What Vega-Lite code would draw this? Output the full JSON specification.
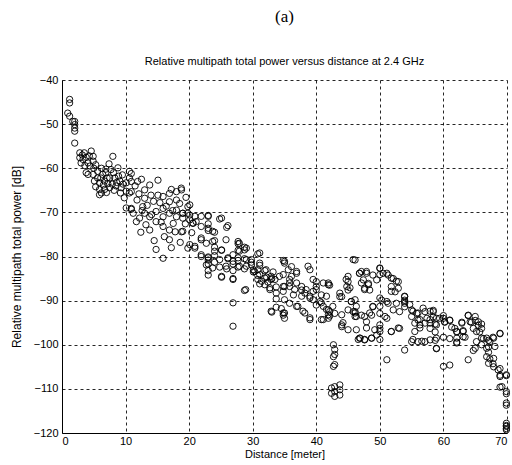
{
  "$schema": "https://vega.github.io/schema/vega-lite/v6.json",
  "width": 445,
  "height": 353,
  "autosize": "none",
  "padding": {"left": 62, "top": 80, "right": 5, "bottom": 32},
  "background": "white",
  "title": {
    "text": "(a)",
    "subtitle": "Relative multipath total power versus distance at 2.4 GHz",
    "anchor": "middle",
    "frame": "group",
    "font": "Liberation Serif",
    "fontSize": 17,
    "fontWeight": "normal",
    "color": "#000",
    "subtitleFont": "Liberation Sans",
    "subtitleFontSize": 11,
    "subtitleColor": "#000",
    "subtitlePadding": 30,
    "offset": 6
  },
  "data": {"values": [
    {"d":1.2,"p":-44.4},{"d":1.2,"p":-45.2},{"d":0.9,"p":-47.5},{"d":1.2,"p":-48.2},{"d":1.7,"p":-49.4},{"d":2,"p":-50.1},{"d":2,"p":-50.9},{"d":2,"p":-51.6},{"d":2,"p":-49.4},{"d":2,"p":-54.3},
    {"d":2.8,"p":-56.5},{"d":2.8,"p":-57.6},{"d":3.3,"p":-58},{"d":3.5,"p":-56.5},{"d":4.6,"p":-56.1},{"d":4.9,"p":-57.3},{"d":4.1,"p":-58.8},{"d":4.9,"p":-58.4},{"d":3.8,"p":-61},{"d":4.9,"p":-61.4},
    {"d":5.6,"p":-60.7},{"d":5.6,"p":-62.2},{"d":5.9,"p":-63.3},{"d":6.4,"p":-61.4},{"d":6.7,"p":-62.9},{"d":5.9,"p":-64.8},{"d":6.7,"p":-64.8},{"d":7.5,"p":-64.4},{"d":7.7,"p":-60.3},{"d":8,"p":-57.3},
    {"d":7.5,"p":-62.2},{"d":8.3,"p":-62.2},{"d":8.8,"p":-59.9},{"d":9.1,"p":-62.9},{"d":8.5,"p":-64},{"d":9.3,"p":-64.4},{"d":10.1,"p":-65.2},{"d":10.1,"p":-63.3},{"d":10.6,"p":-62.2},{"d":10.6,"p":-60.7},
    {"d":9.8,"p":-66.7},{"d":10.6,"p":-65.6},{"d":10.1,"p":-69},{"d":10.9,"p":-69.3},{"d":5.9,"p":-66},{"d":5.1,"p":-62.9},{"d":4.1,"p":-61.4},{"d":3.2,"p":-57},{"d":3.8,"p":-57.5},{"d":4.4,"p":-59.5},
    {"d":6.2,"p":-60},{"d":6.9,"p":-61},{"d":7.2,"p":-63.5},{"d":8.1,"p":-61},{"d":8.6,"p":-63.2},{"d":9.5,"p":-61.5},{"d":6.5,"p":-63.8},{"d":7,"p":-65.5},
    {"d":3,"p":-58.8},{"d":3.6,"p":-59.4},{"d":4.3,"p":-57.2},{"d":5.3,"p":-59.2},{"d":5.3,"p":-64.2},{"d":6.1,"p":-62.2},{"d":7.1,"p":-62.2},{"d":7.9,"p":-63.6},{"d":8.9,"p":-61.8},{"d":9.6,"p":-63.6},
    {"d":9.2,"p":-65.6},{"d":8.2,"p":-65},{"d":6.9,"p":-60.2},{"d":7.4,"p":-59},{"d":6.2,"p":-65.6},{"d":5,"p":-60},
    {"d":10.9,"p":-61.2},{"d":10.9,"p":-63},{"d":10.9,"p":-65.3},{"d":11.9,"p":-63},{"d":13,"p":-64.9},{"d":13.8,"p":-63.8},{"d":15.1,"p":-62.7},{"d":14,"p":-66.1},{"d":15.1,"p":-66.1},{"d":15.9,"p":-66.4},
    {"d":16.9,"p":-65.7},{"d":18,"p":-65.3},{"d":18.8,"p":-64.9},{"d":18,"p":-67.2},{"d":16.9,"p":-67.6},{"d":10.9,"p":-69.1},{"d":11.2,"p":-70.2},{"d":11.7,"p":-72.1},{"d":12.7,"p":-68.7},{"d":13,"p":-70.2},
    {"d":13.8,"p":-71},{"d":13.8,"p":-74},{"d":14.8,"p":-69.8},{"d":14.8,"p":-72.1},{"d":15.9,"p":-69.1},{"d":15.9,"p":-71},{"d":15.9,"p":-73.2},{"d":16.1,"p":-75.5},{"d":16.9,"p":-76.2},{"d":16.9,"p":-74},
    {"d":16.9,"p":-70.2},{"d":18,"p":-69.5},{"d":18,"p":-71},{"d":18.8,"p":-74.4},{"d":19,"p":-70.2},{"d":19,"p":-71.3},{"d":19.8,"p":-68.7},{"d":20.1,"p":-70.6},{"d":20.1,"p":-71.7},{"d":20.6,"p":-72.5},
    {"d":21.1,"p":-72.1},{"d":21.9,"p":-73.2},{"d":21.9,"p":-76.2},{"d":19.8,"p":-78.1},{"d":20.9,"p":-78.1},{"d":23,"p":-73.6},{"d":22.7,"p":-77},{"d":21.9,"p":-80},{"d":23,"p":-80.8},{"d":23,"p":-84.2},
    {"d":15.9,"p":-80.4},{"d":13,"p":-66.8},{"d":12.2,"p":-71.3},{"d":12.4,"p":-74.5},{"d":14.5,"p":-76.4},{"d":11.5,"p":-64},{"d":12.5,"p":-62.5},{"d":14.4,"p":-67.5},{"d":17.5,"p":-72.5},{"d":18.5,"p":-68},
    {"d":17.2,"p":-78},{"d":18.6,"p":-76.8},{"d":14.8,"p":-78.4},
    {"d":11.8,"p":-67.2},{"d":12.1,"p":-65.8},{"d":13.4,"p":-68.4},{"d":14.1,"p":-70.5},{"d":15.4,"p":-67.8},{"d":16.4,"p":-68.6},{"d":17.4,"p":-69.6},{"d":17.8,"p":-74.4},{"d":19.4,"p":-72.6},{"d":20.4,"p":-74.6},
    {"d":19.5,"p":-66.6},{"d":17.2,"p":-64.8},{"d":15.6,"p":-72.2},{"d":13.2,"p":-72.8},{"d":12.6,"p":-69.6},
    {"d":18.76,"p":-64.5},{"d":20.1,"p":-68.3},{"d":19,"p":-70.2},{"d":19.8,"p":-70.2},{"d":20.9,"p":-70.9},{"d":21.9,"p":-70.9},{"d":23,"p":-70.9},{"d":25.1,"p":-71.3},{"d":26.1,"p":-73},{"d":19,"p":-74.3},
    {"d":20.6,"p":-72.4},{"d":21.9,"p":-75.8},{"d":23.7,"p":-74.3},{"d":20.1,"p":-77.3},{"d":20.9,"p":-77.7},{"d":23.7,"p":-76.6},{"d":27.9,"p":-77},{"d":29,"p":-78.1},{"d":31.1,"p":-79.2},{"d":21.9,"p":-79.6},
    {"d":23,"p":-80.3},{"d":24,"p":-78.8},{"d":25.1,"p":-78.5},{"d":26.1,"p":-80.3},{"d":26.9,"p":-81.1},{"d":27.9,"p":-78.8},{"d":29,"p":-80.7},{"d":29.8,"p":-81.9},{"d":31.1,"p":-81.5},{"d":32.1,"p":-83},
    {"d":22.7,"p":-81.9},{"d":23.7,"p":-82.6},{"d":25.1,"p":-84.5},{"d":26.9,"p":-85.2},{"d":24.8,"p":-80.7},{"d":25.8,"p":-82.2},{"d":27.9,"p":-82.2},{"d":30.3,"p":-83.4},{"d":31.4,"p":-85.6},{"d":32.9,"p":-85.2},
    {"d":32.7,"p":-87.1},{"d":33.7,"p":-88.3},{"d":34.2,"p":-84.5},{"d":35,"p":-81.1},{"d":36.9,"p":-83.4},{"d":35.8,"p":-85.2},{"d":35,"p":-86.8},{"d":36.6,"p":-87.5},{"d":37.7,"p":-89},{"d":36.9,"p":-91.3},
    {"d":37.9,"p":-92.4},{"d":38.7,"p":-82.2},{"d":39.5,"p":-85.2},{"d":40,"p":-87.5},{"d":39.5,"p":-89.8},{"d":40.8,"p":-90.5},{"d":41.6,"p":-89},{"d":41.9,"p":-86},{"d":41.6,"p":-92},{"d":40.8,"p":-94.3},
    {"d":42.1,"p":-93.5},{"d":39,"p":-93.9},{"d":35,"p":-92.8},{"d":32.9,"p":-92.4},{"d":32.7,"p":-87.5},{"d":42.6,"p":-91.3},{"d":43.7,"p":-88.3},{"d":44.2,"p":-95},{"d":44.7,"p":-85.2},{"d":45,"p":-84.5},
    {"d":45.3,"p":-87.1},{"d":45.8,"p":-80.7},{"d":46.1,"p":-89.8},{"d":46.1,"p":-92.8},{"d":46.3,"p":-96.6},{"d":42.9,"p":-101.1},{"d":42.9,"p":-102.2},{"d":42.9,"p":-104.5},{"d":25.8,"p":-76.2},{"d":27.7,"p":-76.6},
    {"d":29,"p":-82.2},{"d":30.1,"p":-83},{"d":31.1,"p":-84.1},{"d":31.9,"p":-84.9},{"d":26.9,"p":-79.6},{"d":27.7,"p":-80.3},{"d":28.7,"p":-78.5},{"d":29.8,"p":-80.7},{"d":30.8,"p":-83},{"d":32.9,"p":-84.5},
    {"d":33.5,"p":-85.2},{"d":35.6,"p":-83},{"d":37.7,"p":-86.8},{"d":38.4,"p":-87.5},{"d":39,"p":-89},{"d":34.8,"p":-84.1},{"d":35.8,"p":-86.8},{"d":30.8,"p":-85.2},{"d":31.9,"p":-86.4},
    {"d":26.9,"p":-90.5},{"d":26.9,"p":-95.8},{"d":28.9,"p":-87.5},
    {"d":23,"p":-70.7},{"d":23,"p":-72.6},{"d":23,"p":-74.1},{"d":24.8,"p":-71.5},{"d":25.9,"p":-73.4},{"d":24,"p":-74.5},{"d":24,"p":-76.4},{"d":24,"p":-77.9},{"d":25.1,"p":-78.6},{"d":26.1,"p":-80.5},
    {"d":23,"p":-80.1},{"d":23,"p":-81.7},{"d":23,"p":-83.2},{"d":24,"p":-79.8},{"d":24,"p":-81.3},{"d":24.8,"p":-82.4},{"d":25.1,"p":-84.7},{"d":25.9,"p":-82.8},{"d":26.9,"p":-81.7},{"d":26.9,"p":-83.2},
    {"d":26.9,"p":-85},{"d":27.7,"p":-77.1},{"d":27.7,"p":-78.6},{"d":27.7,"p":-80.9},{"d":27.7,"p":-82.4},{"d":28.7,"p":-77.9},{"d":28.7,"p":-80.5},{"d":28.7,"p":-82.8},{"d":28.7,"p":-87.7},{"d":29.8,"p":-81.3},
    {"d":30.1,"p":-83.5},{"d":30.8,"p":-79.4},{"d":31.1,"p":-82},{"d":30.8,"p":-84.3},{"d":31.1,"p":-86.2},{"d":31.9,"p":-83.2},{"d":32.2,"p":-84.7},{"d":32.4,"p":-85.8},{"d":33,"p":-85},{"d":33.2,"p":-83.5},
    {"d":33.7,"p":-86.9},{"d":33.7,"p":-89.6},{"d":33.7,"p":-91.5},{"d":33,"p":-92.6},{"d":34.5,"p":-91.8},{"d":34.8,"p":-93.3},{"d":34.8,"p":-80.9},
    {"d":35,"p":-81.5},{"d":36.1,"p":-82.3},{"d":36.9,"p":-83.8},{"d":39,"p":-83},{"d":36.1,"p":-84.5},{"d":35.8,"p":-86},{"d":36.9,"p":-86},{"d":34.8,"p":-86.8},{"d":34.8,"p":-87.9},{"d":37.7,"p":-87.6},
    {"d":38.2,"p":-88.3},{"d":40,"p":-85.7},{"d":40,"p":-86.8},{"d":41.1,"p":-86},{"d":41.9,"p":-86.4},{"d":40.8,"p":-88.7},{"d":39.5,"p":-87.9},{"d":39,"p":-89.4},{"d":40.6,"p":-90.2},{"d":41.1,"p":-91.3},
    {"d":41.9,"p":-92.1},{"d":41.9,"p":-93.2},{"d":41.9,"p":-94},{"d":40,"p":-91},{"d":37.1,"p":-91.3},{"d":38.2,"p":-92.8},{"d":39,"p":-94.3},{"d":41.1,"p":-94.3},{"d":35,"p":-89.8},{"d":35.8,"p":-90.6},
    {"d":35,"p":-94},{"d":34.8,"p":-92.8},{"d":36.4,"p":-88.7},{"d":43.7,"p":-89.1},{"d":44,"p":-93.2},{"d":44,"p":-95.5},{"d":45,"p":-96.6},{"d":45,"p":-87.6},{"d":45,"p":-85.7},{"d":45.5,"p":-90.2},
    {"d":46.3,"p":-91.3},{"d":45.8,"p":-92.5},{"d":46.1,"p":-93.6},{"d":46.1,"p":-80.8},{"d":46.8,"p":-83.8},{"d":46.8,"p":-98.5},
    {"d":47.1,"p":-83.4},{"d":47.9,"p":-83.8},{"d":47.4,"p":-85.3},{"d":48.2,"p":-86.1},{"d":47.6,"p":-87.2},{"d":48.9,"p":-84.2},{"d":50,"p":-82.7},{"d":50.5,"p":-83.8},{"d":51.3,"p":-84.2},{"d":52.1,"p":-85},
    {"d":52.9,"p":-85.7},{"d":51.8,"p":-86.8},{"d":52.4,"p":-88},{"d":49.5,"p":-85.3},{"d":48.4,"p":-87.6},{"d":44.8,"p":-86.8},{"d":44,"p":-89.1},{"d":42.1,"p":-86.5},{"d":45.5,"p":-90.2},{"d":45,"p":-92.1},
    {"d":46.1,"p":-92.5},{"d":47.1,"p":-93.3},{"d":47.9,"p":-94.8},{"d":48.9,"p":-91.4},{"d":48.7,"p":-93.3},{"d":50.3,"p":-89.9},{"d":51.3,"p":-90.6},{"d":50,"p":-92.9},{"d":50.8,"p":-93.6},{"d":50,"p":-96.3},
    {"d":49.5,"p":-97.8},{"d":48.7,"p":-98.5},{"d":47.6,"p":-98.9},{"d":46.9,"p":-98.5},{"d":51.8,"p":-97},{"d":53.1,"p":-96.3},{"d":52.1,"p":-92.1},{"d":53.1,"p":-92.5},{"d":53.9,"p":-89.1},{"d":53.9,"p":-89.9},
    {"d":53.9,"p":-90.6},{"d":53.9,"p":-91.4},{"d":55,"p":-92.1},{"d":55,"p":-93.6},{"d":55.8,"p":-92.9},{"d":56,"p":-94.4},{"d":56.3,"p":-95.5},{"d":57.1,"p":-92.5},{"d":57.4,"p":-94},{"d":57.9,"p":-95.1},
    {"d":57.9,"p":-96.3},{"d":58.4,"p":-92.5},{"d":58.9,"p":-94},{"d":58.9,"p":-95.5},{"d":58.9,"p":-98.5},{"d":58.9,"p":-100.8},{"d":59.4,"p":-94},{"d":55,"p":-99.3},{"d":56,"p":-99.3},{"d":57.1,"p":-99.3},
    {"d":57.9,"p":-98.9},{"d":53.9,"p":-101.2},{"d":51.1,"p":-103.4},{"d":60,"p":-104.9},{"d":61,"p":-104.6},{"d":60,"p":-94},{"d":60.2,"p":-94.8},{"d":61,"p":-94.4},{"d":61.8,"p":-96.3},{"d":62.1,"p":-97},
    {"d":62.1,"p":-98.5},{"d":62.1,"p":-99.6},{"d":62.9,"p":-95.1},{"d":63.1,"p":-97},{"d":63.1,"p":-98.2},{"d":63.9,"p":-93.3},{"d":64.2,"p":-94.8},{"d":64.7,"p":-96.3},{"d":65,"p":-93.6},{"d":65.5,"p":-94.8},
    {"d":65.2,"p":-97},{"d":66,"p":-96.3},{"d":66,"p":-98.5},{"d":66.8,"p":-98.5},{"d":67.3,"p":-99.3},{"d":67.9,"p":-98.5},{"d":68.1,"p":-100.4},{"d":68.9,"p":-97.4},{"d":66.8,"p":-100.8},{"d":66.8,"p":-102.7},
    {"d":67.1,"p":-104.2},{"d":67.9,"p":-103.1},{"d":67.9,"p":-105},{"d":68.6,"p":-105.7},{"d":68.9,"p":-107.2},{"d":69.9,"p":-106.8},{"d":69.2,"p":-109.5},{"d":69.9,"p":-110.6},{"d":69.9,"p":-113.2},{"d":69.9,"p":-117.8},
    {"d":69.9,"p":-118.5},{"d":69.9,"p":-119.3},{"d":65,"p":-100.8},{"d":63.9,"p":-103.4},{"d":65.2,"p":-99.3},{"d":66,"p":-100},{"d":42.7,"p":-100},{"d":42.7,"p":-102.7},{"d":42.7,"p":-104.9},{"d":42.9,"p":-109.5},
    {"d":42.9,"p":-110.6},{"d":42.9,"p":-111.7},{"d":43.7,"p":-109.1},{"d":43.7,"p":-110.2},{"d":43.7,"p":-111.4},{"d":42.4,"p":-111},{"d":42.4,"p":-109.8},{"d":42.9,"p":-92.9},{"d":44,"p":-95.9},{"d":42.1,"p":-92.5},
    {"d":58.4,"p":-92.2},{"d":58.4,"p":-93.7},{"d":58.7,"p":-95.3},{"d":58.7,"p":-97.1},{"d":58.7,"p":-99},{"d":58.9,"p":-100.9},{"d":60,"p":-93.4},{"d":60.2,"p":-94.9},{"d":61,"p":-94.5},{"d":61.3,"p":-96},
    {"d":60,"p":-98.3},{"d":61,"p":-98.6},{"d":62.1,"p":-99.4},{"d":62.1,"p":-97.1},{"d":62.9,"p":-94.9},{"d":63.1,"p":-96.8},{"d":63.4,"p":-98.3},{"d":63.9,"p":-93.4},{"d":64.4,"p":-94.9},{"d":65,"p":-94.5},
    {"d":65.5,"p":-95.6},{"d":66,"p":-95.3},{"d":65.7,"p":-97.1},{"d":66.3,"p":-98.6},{"d":67.1,"p":-99},{"d":67.8,"p":-98.3},{"d":68.9,"p":-97.5},{"d":67.1,"p":-100.5},{"d":67.1,"p":-101.7},{"d":67.3,"p":-103.2},
    {"d":67.8,"p":-104.3},{"d":68.9,"p":-105.4},{"d":68.9,"p":-106.9},{"d":69.9,"p":-107},{"d":68.9,"p":-109.6},{"d":69.9,"p":-111.1},{"d":69.9,"p":-113.7},{"d":69.9,"p":-118.3},{"d":69.9,"p":-119},{"d":64.7,"p":-101.3},
    {"d":50,"p":-82.6},{"d":46.8,"p":-83.8},{"d":47.9,"p":-83.4},{"d":47.1,"p":-86},{"d":48.2,"p":-86.4},{"d":47.6,"p":-87.5},{"d":50,"p":-84.1},{"d":51.1,"p":-83.8},{"d":51.8,"p":-84.9},{"d":52.6,"p":-85.6},
    {"d":52.9,"p":-87.2},{"d":51.8,"p":-87.9},{"d":50,"p":-89.4},{"d":51.1,"p":-90.2},{"d":52.6,"p":-90.6},{"d":53.9,"p":-89},{"d":53.9,"p":-90.2},{"d":54.7,"p":-90.9},{"d":55.2,"p":-92.4},{"d":56,"p":-92.8},
    {"d":56.8,"p":-91.7},{"d":57.9,"p":-92.4},{"d":56.3,"p":-94.3},{"d":57.1,"p":-95.1},{"d":57.9,"p":-94.3},{"d":55.5,"p":-95.1},{"d":56.3,"p":-96.2},{"d":55.2,"p":-98.8},{"d":56.6,"p":-99.2},{"d":46.3,"p":-93.6},
    {"d":47.6,"p":-93.6},{"d":48.4,"p":-92.8},{"d":48.9,"p":-91.3},{"d":50,"p":-91.3},{"d":51.1,"p":-94},{"d":50,"p":-95.5},{"d":49.2,"p":-96.6},{"d":47.9,"p":-96.2},{"d":46.6,"p":-98.8},{"d":47.6,"p":-98.8},
    {"d":48.7,"p":-98.5},{"d":50,"p":-97},{"d":51.8,"p":-97},{"d":52.9,"p":-96.2},{"d":50,"p":-98.8},{"d":55.5,"p":-97}
  ]},
  "mark": {"type": "point", "shape": "circle", "filled": false, "stroke": "#000", "strokeWidth": 0.9, "size": 40, "opacity": 1, "clip": false},
  "encoding": {
    "x": {"field": "d", "type": "quantitative", "scale": {"domain": [0, 70], "nice": false, "zero": false},
      "axis": {"values": [0,10,20,30,40,50,60,70], "title": "Distance [meter]"}},
    "y": {"field": "p", "type": "quantitative", "scale": {"domain": [-120, -40], "nice": false, "zero": false},
      "axis": {"values": [-120,-110,-100,-90,-80,-70,-60,-50,-40], "title": "Relative multipath total power [dB]"}}
  },
  "config": {
    "view": {"stroke": null},
    "axis": {
      "labelFont": "Liberation Sans",
      "labelFontSize": 11,
      "labelColor": "#000",
      "titleFont": "Liberation Sans",
      "titleFontSize": 11,
      "titleFontWeight": "normal",
      "titleColor": "#000",
      "domainColor": "#000",
      "domainWidth": 1,
      "ticks": false,
      "labelPadding": 3,
      "grid": true,
      "gridColor": "#000",
      "gridDash": [3, 3],
      "gridWidth": 1,
      "gridOpacity": 0.85
    },
    "axisX": {"titlePadding": 2, "labelPadding": 2},
    "axisY": {"titlePadding": 10, "labelPadding": 4, "titleFontSize": 12}
  }
}
